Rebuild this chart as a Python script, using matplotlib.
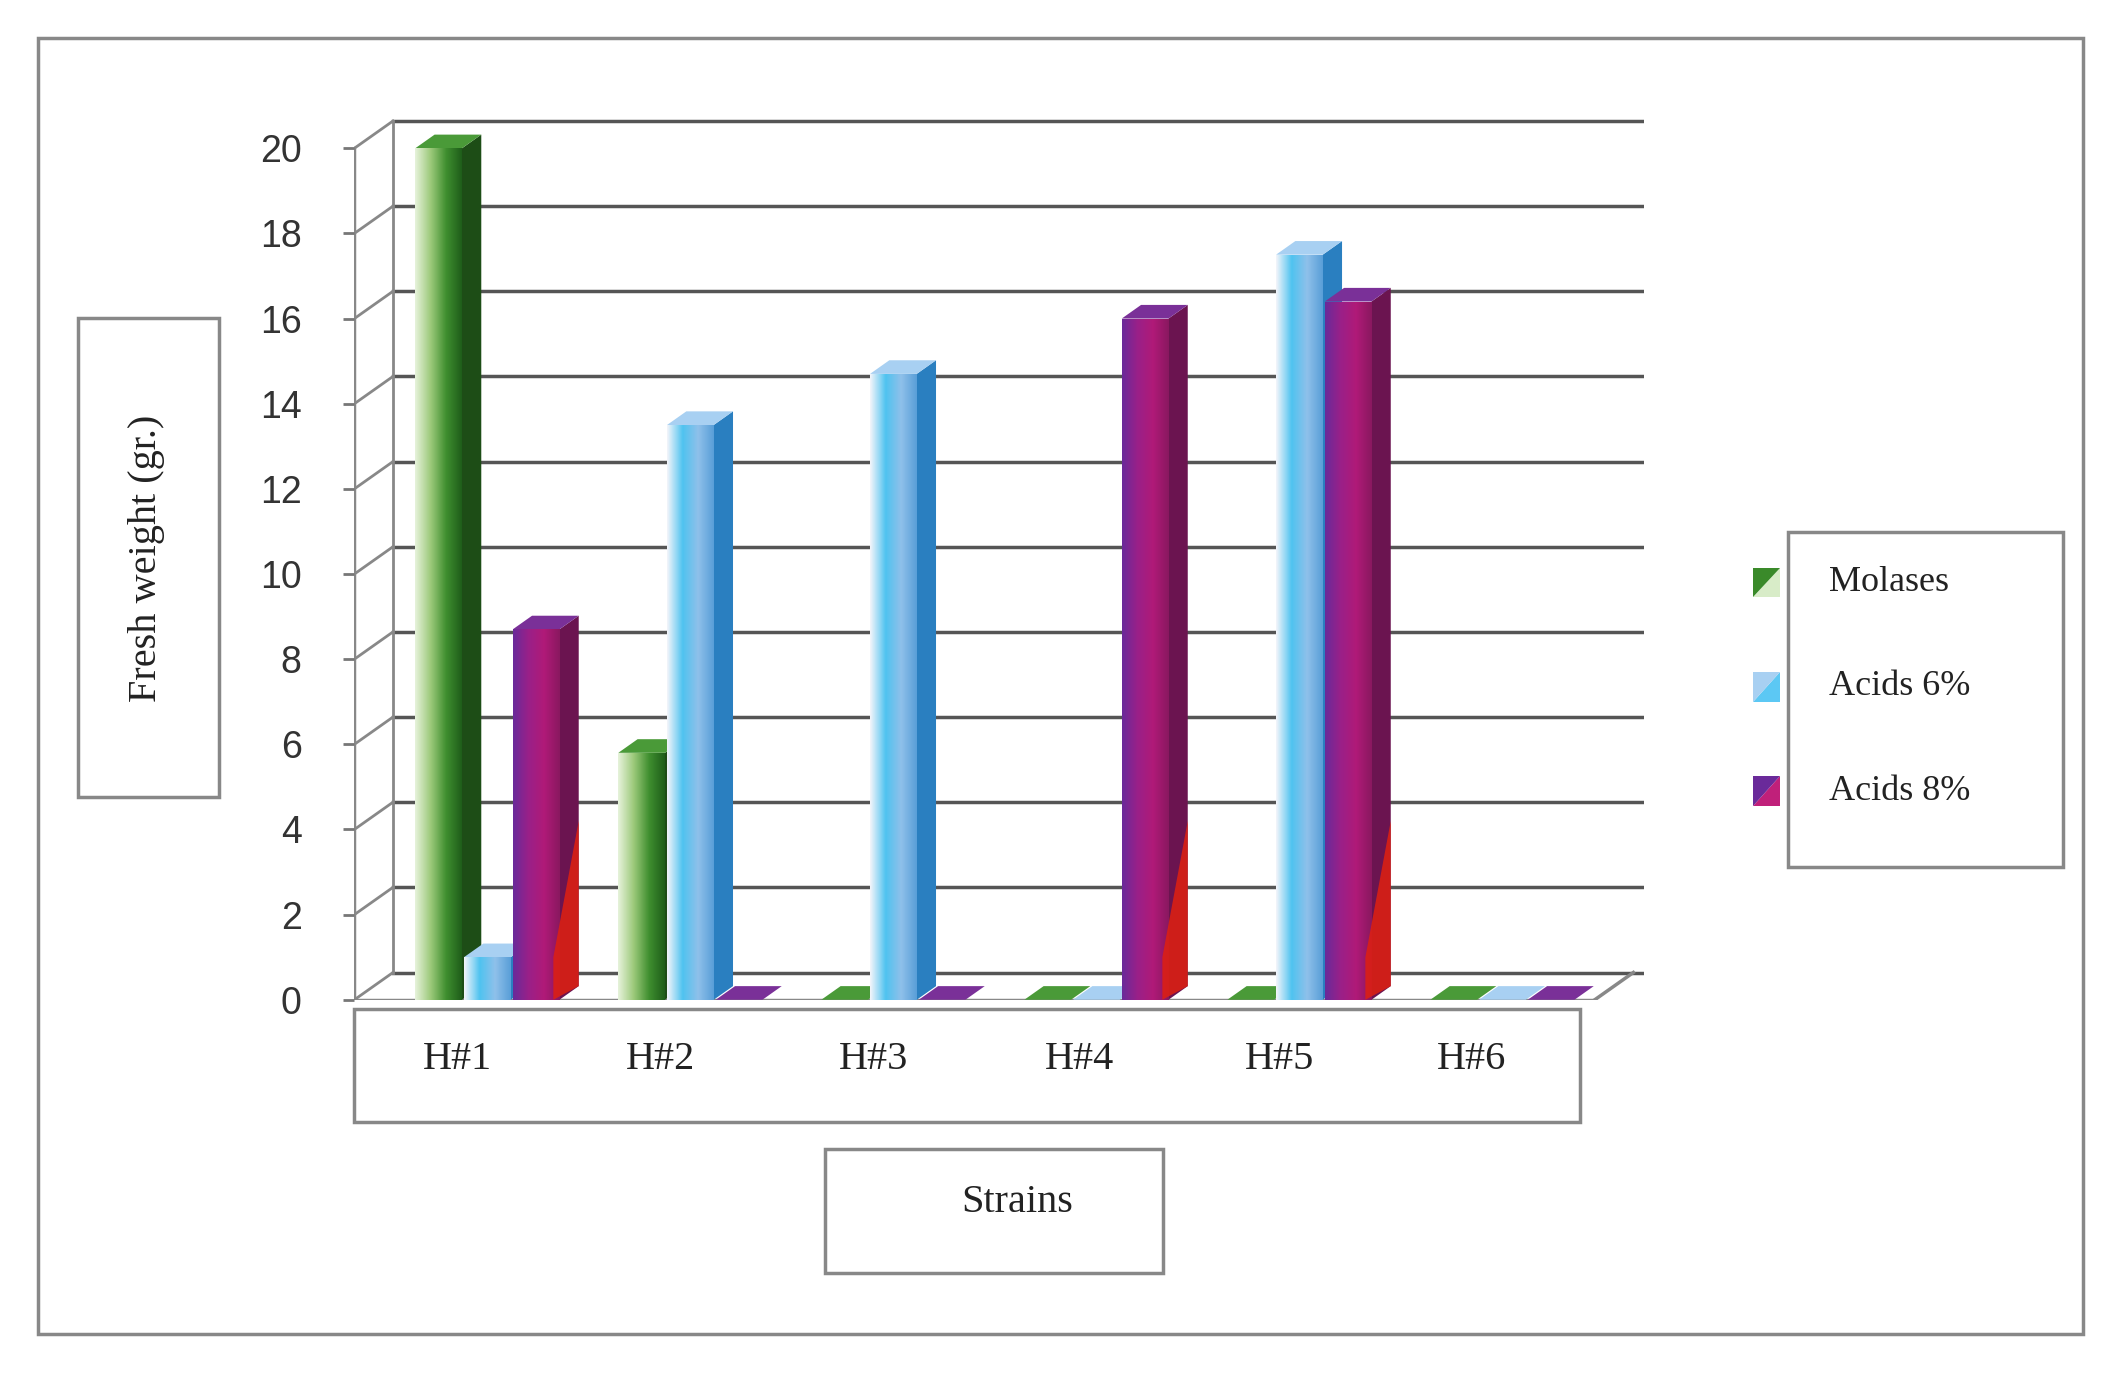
import numpy as np
import matplotlib
matplotlib.use("Agg")
import matplotlib.pyplot as plt
from matplotlib.patches import Rectangle, Polygon
from matplotlib.colors import LinearSegmentedColormap

categories = ["H#1", "H#2", "H#3", "H#4", "H#5", "H#6"]
series = ["Molases", "Acids 6%", "Acids 8%"]
molases = [20, 5.8, 0, 0, 0, 0]
acids6 = [1.0, 13.5, 14.7, 0, 17.5, 0]
acids8 = [8.7, 0, 0, 16.0, 16.4, 0]
yticks = list(range(0, 21, 2))

values = [molases, acids6, acids8]
front_cols = [["#e6f2da", "#9cc97a", "#3f8f2f", "#1f5e1a"],
              ["#f2f4fa", "#4fc3f0", "#8fc0ea", "#5a9fd8"],
              ["#6a2a9a", "#9a2088", "#b01a78", "#8a1860"]]
side_cols = ["#1d4d16", "#2a7fc0", "#6b1450"]
top_cols = ["#4a9a38", "#a8d0f2", "#7a3098"]

fig = plt.figure(figsize=(21.21, 13.75), dpi=100)
W, H = 1568, 1015
def fx(x): return x / W
def fy(y): return 1 - y / H

ax = fig.add_axes([fx(262), fy(738), fx(1215) - fx(262), fy(78) - fy(738)])
xmin, xmax = -0.5, 5.85
ax.set_xlim(xmin, xmax); ax.set_ylim(0, 21)
for s in ax.spines.values(): s.set_visible(False)
ax.set_xticks([])
ax.set_yticks(yticks)
ax.set_yticklabels([str(t) for t in yticks], fontsize=27, family="Liberation Sans", color="#333")
ax.tick_params(axis="y", length=8, width=2, color="#777", pad=30)

dx, dy = 0.19, 0.64
gc = "#555555"
for t in yticks:
    ax.plot([xmin + dx, xmax], [t + dy, t + dy], color=gc, lw=2.5, zorder=1)
    ax.plot([xmin, xmin + dx], [t, t + dy], color="#888", lw=2, zorder=1)
ax.plot([xmin + dx, xmin + dx], [dy, 20 + dy], color="#888", lw=2, zorder=1)
ax.plot([xmin, xmin], [0, 20], color="#888", lw=2.5, zorder=1)
fe = 5.61
ax.plot([xmin, fe], [0, 0], color="#888", lw=2.5, zorder=1)
ax.plot([fe, fe + dx], [0, dy], color="#888", lw=2.5, zorder=1)

bw = 0.23
offs = [-0.27, -0.03, 0.21]
for i in range(len(categories)):
    c = i + 0.07
    for k in range(3):
        v = values[k][i]
        x0 = c + offs[k]
        x1 = x0 + bw
        z = 3 + i * 3 + k
        ax.add_patch(Polygon([(x1, 0), (x1 + dx * 0.5, dy * 0.5), (x1 + dx * 0.5, v + dy * 0.5), (x1, v)],
                             closed=True, fc=side_cols[k], ec="none", zorder=z))
        ax.add_patch(Polygon([(x0, v), (x1, v), (x1 + dx * 0.5, v + dy * 0.5), (x0 + dx * 0.5, v + dy * 0.5)],
                             closed=True, fc=top_cols[k], ec="none", zorder=z))
        if v > 0:
            rect = Rectangle((x0, 0), bw, v, fc="none", ec="none", zorder=z)
            ax.add_patch(rect)
            cmap = LinearSegmentedColormap.from_list("g%d" % k, front_cols[k])
            im = ax.imshow(np.linspace(0, 1, 64)[None, :], cmap=cmap, extent=[x0, x1, 0, v],
                           aspect="auto", zorder=z, interpolation="bilinear")
            im.set_clip_path(rect)
            if k == 2:
                ax.add_patch(Polygon([(x1 - 0.03, 0), (x1 + dx * 0.5, dy * 0.5),
                                      (x1 + dx * 0.5, min(v, 4.2)), (x1 - 0.03, min(v, 2.0) * 0.5)],
                                     closed=True, fc="#e02010", ec="none", zorder=z, alpha=0.85))
ax.set_xlim(xmin, xmax); ax.set_ylim(0, 21)

def box(x0, y0, x1, y1):
    fig.patches.append(Rectangle((fx(x0), fy(y1)), fx(x1) - fx(x0), fy(y0) - fy(y1),
                                 transform=fig.transFigure, fill=False, ec="#888", lw=2.5))
box(28, 28, 1540, 985)
box(58, 235, 162, 588)
box(262, 745, 1168, 828)
box(610, 848, 860, 940)
box(1322, 393, 1525, 640)

serif = "Liberation Serif"
fig.text(fx(108), fy(412), "Fresh weight (gr.)", rotation=90, ha="center", va="center",
         fontsize=29, family=serif, color="#222")
xl = [338, 488, 646, 798, 946, 1088]
for lab, x in zip(categories, xl):
    fig.text(fx(x), fy(782), lab, ha="center", va="center", fontsize=29, family=serif, color="#222")
fig.text(fx(752), fy(888), "Strains", ha="center", va="center", fontsize=29, family=serif, color="#222")

ly = [430, 507, 584]
lc = [("#d8ecc8", "#3a8a2a"), ("#5cc8f4", "#a8d0f2"), ("#c0207a", "#6a2a9a")]
for name, y, (ca, cb) in zip(series, ly, lc):
    x0, x1, y0, y1 = fx(1296), fx(1316), fy(y + 11), fy(y - 11)
    fig.patches.append(Polygon([(x0, y0), (x1, y0), (x1, y1)], closed=True, transform=fig.transFigure, fc=ca, ec="none"))
    fig.patches.append(Polygon([(x0, y0), (x0, y1), (x1, y1)], closed=True, transform=fig.transFigure, fc=cb, ec="none"))
    fig.text(fx(1352), fy(y), name, ha="left", va="center", fontsize=26, family=serif, color="#222")

fig.savefig("out.png", dpi=100)
